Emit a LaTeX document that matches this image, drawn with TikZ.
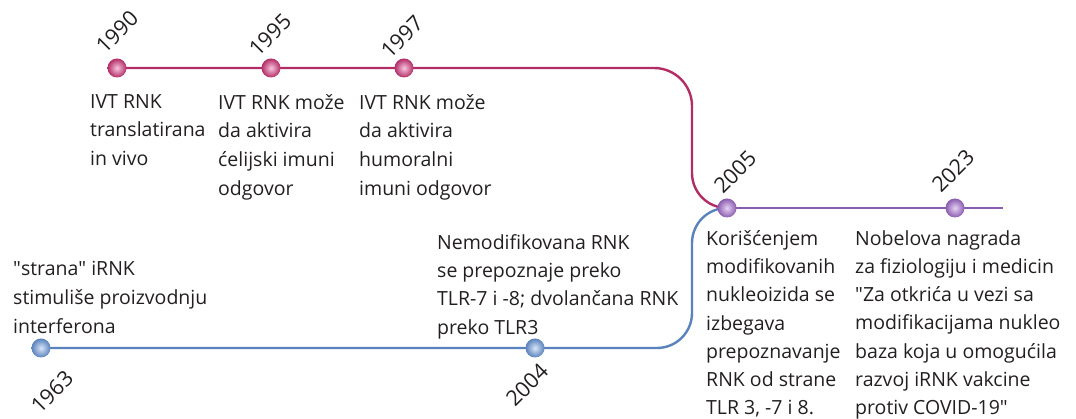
\documentclass[tikz,border=0pt]{standalone}
\usepackage{fontspec}
\setmainfont{Open Sans}
\usetikzlibrary{backgrounds}
\definecolor{pinkline}{HTML}{B22D66}
\definecolor{pinkin}{HTML}{F7C6DE}
\definecolor{blueline}{HTML}{5A82BC}
\definecolor{bluein}{HTML}{D8E6F8}
\definecolor{purpline}{HTML}{8A5CAF}
\definecolor{purpin}{HTML}{E6D2F4}
\definecolor{txt}{HTML}{231F20}
\tikzset{
  dot/.style={circle, minimum size=19pt, inner sep=0pt},
  pinkdot/.style={dot, inner color=pinkin, outer color=pinkline},
  bluedot/.style={dot, inner color=bluein, outer color=blueline},
  purpdot/.style={dot, inner color=purpin, outer color=purpline},
  yearlbl/.style={rotate=45, inner sep=0pt, text=txt, font=\fontsize{21.5}{21.5}\selectfont},
  desc/.style={anchor=north west, inner sep=0pt, align=left, text=txt,
    font=\fontsize{19.5}{28.8}\selectfont, execute at begin node={\rule{0pt}{18pt}}},
  desctight/.style={desc, font=\fontsize{19.5}{28.3}\selectfont},
  tline/.style={line width=2.4pt}
}
\begin{document}
\begin{tikzpicture}[x=1pt,y=1pt]
\useasboundingbox (0,0) rectangle (1076,419);
% timeline dots
\node[pinkdot] (n1990) at (117,351) {};
\node[pinkdot] (n1995) at (271,351) {};
\node[pinkdot] (n1997) at (404,351) {};
\node[purpdot] (n2005) at (727,211) {};
\node[purpdot] (n2023) at (955,211) {};
\node[bluedot] (n1963) at (41,71) {};
\node[bluedot] (n2004) at (535,71) {};
\coordinate (pend) at (1003,211);
\begin{scope}[on background layer]
  \draw[tline, pinkline] (n1990.center) -- (n1995.center) -- (n1997.center) -- (654,351)
    arc[start angle=90, end angle=0, radius=38] -- (692,246)
    arc[start angle=180, end angle=270, radius=35] -- (n2005.center);
  \draw[tline, blueline] (n1963.center) -- (n2004.center) -- (657,71)
    arc[start angle=-90, end angle=0, radius=35] -- (692,176)
    arc[start angle=180, end angle=90, radius=35] -- (n2005.center);
  \draw[tline, purpline] (n2005.center) -- (n2023.center) -- (pend);
\end{scope}
% years
\node[yearlbl] (y1990) at (117,387) {1990};
\node[yearlbl] (y1995) at (270,384) {1995};
\node[yearlbl] (y1997) at (402,382) {1997};
\node[yearlbl] (y2005) at (735,247) {2005};
\node[yearlbl] (y2023) at (953,248) {2023};
\node[yearlbl] (y1963) at (52,27) {1963};
\node[yearlbl] (y2004) at (527,34) {2004};
% descriptions
\node[desc] (t1990) at (90,325) {IVT RNK\\translatirana\\in vivo};
\node[desc] (t1995) at (218,325) {IVT RNK može\\da aktivira\\ćelijski imuni\\odgovor};
\node[desc] (t1997) at (359,325) {IVT RNK može\\da aktivira\\humoralni\\imuni odgovor};
\node[desc] (t1963) at (13,158) {\textquotedbl strana\textquotedbl{} iRNK\\stimuliše proizvodnju\\interferona};
\node[desctight] (t2004) at (437,185) {Nemodifikovana RNK\\se prepoznaje preko\\TLR-7 i -8; dvolančana RNK\\preko TLR3};
\node[desctight] (t2005) at (706,189) {Korišćenjem\\modifikovanih\\nukleoizida se\\izbegava\\prepoznavanje\\RNK od strane\\TLR 3, -7 i 8.};
\node[desctight] (t2023) at (855,189) {Nobelova nagrada\\za fiziologiju i medicin\\\textquotedbl Za otkrića u vezi sa\\modifikacijama nukleo\\baza koja u omogućila\\razvoj iRNK vakcine\\protiv COVID-19\textquotedbl};
\end{tikzpicture}
\end{document}
